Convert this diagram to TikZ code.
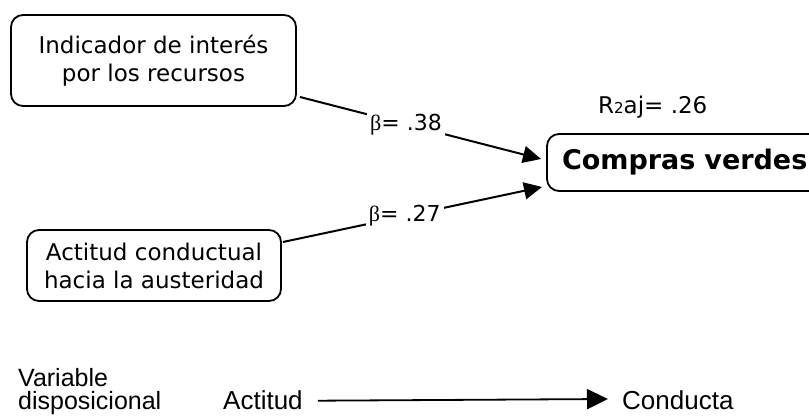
\documentclass[tikz,border=0pt]{standalone}
\usepackage{fontspec}
\setmainfont{DejaVu Sans}
\newfontfamily\arialfont{Liberation Sans}
\newfontfamily\serifbeta{Liberation Serif}
\usetikzlibrary{arrows.meta}
\tikzset{
  rbox/.style={draw=black, line width=1.8pt, rounded corners=12pt, inner sep=0pt, align=center, font=\fontsize{23}{28}\selectfont},
  conn/.style={line width=2pt, -{Triangle[length=18pt,width=17pt]}},
  coef/.style={fill=white, inner sep=3pt, font=\fontsize{22}{26}\selectfont},
  plain/.style={inner sep=0pt},
  arialtxt/.style={inner sep=0pt, font=\arialfont\fontsize{25}{23}\selectfont}
}
\newcommand{\betasym}{{\serifbeta β}}
\begin{document}
\begin{tikzpicture}[x=1pt,y=-1pt]
\useasboundingbox (0,0) rectangle (809,419);
\clip (0,0) rectangle (809,419);
\fill[white] (0,0) rectangle (809,419);

\node[rbox, minimum width=285pt, minimum height=91pt] (ind) at (153.5,60.5) {Indicador de interés\\por los recursos};
\node[rbox, minimum width=254pt, minimum height=71pt] (act) at (154,265.5) {Actitud conductual\\hacia la austeridad};
\node[rbox, minimum width=280pt, minimum height=57pt, font=\bfseries\fontsize{27}{30}\selectfont, text width=250pt, align=left] (cv) at (687,162.5) {Compras verdes};

\node[plain, anchor=base west, font=\fontsize{23}{26}\selectfont] (r2) at (598,114) {R{\fontsize{15}{17}\selectfont 2}aj= .26};

\coordinate (s1) at (300,97);
\coordinate (t1) at (541,159);
\coordinate (s2) at (283,242);
\coordinate (t2) at (542,187);
\draw[conn] (s1) -- node[coef, pos=0.44] (b1) {\betasym= .38} (t1);
\draw[conn] (s2) -- node[coef, pos=0.47] (b2) {\betasym= .27} (t2);

\node[arialtxt, anchor=base west, align=left] (var) at (18,410) {Variable\\disposicional};
\node[arialtxt, anchor=base west, font=\arialfont\fontsize{26}{23}\selectfont] (actd) at (223,410) {Actitud};
\node[arialtxt, anchor=base west, font=\arialfont\fontsize{26}{23}\selectfont] (cond) at (622,410) {Conducta};
\draw[line width=1.8pt, -{Triangle[length=21pt,width=20pt]}] (actd.east) ++(15pt,0) coordinate (a1) -- (608,399) coordinate (a2);
\end{tikzpicture}
\end{document}
